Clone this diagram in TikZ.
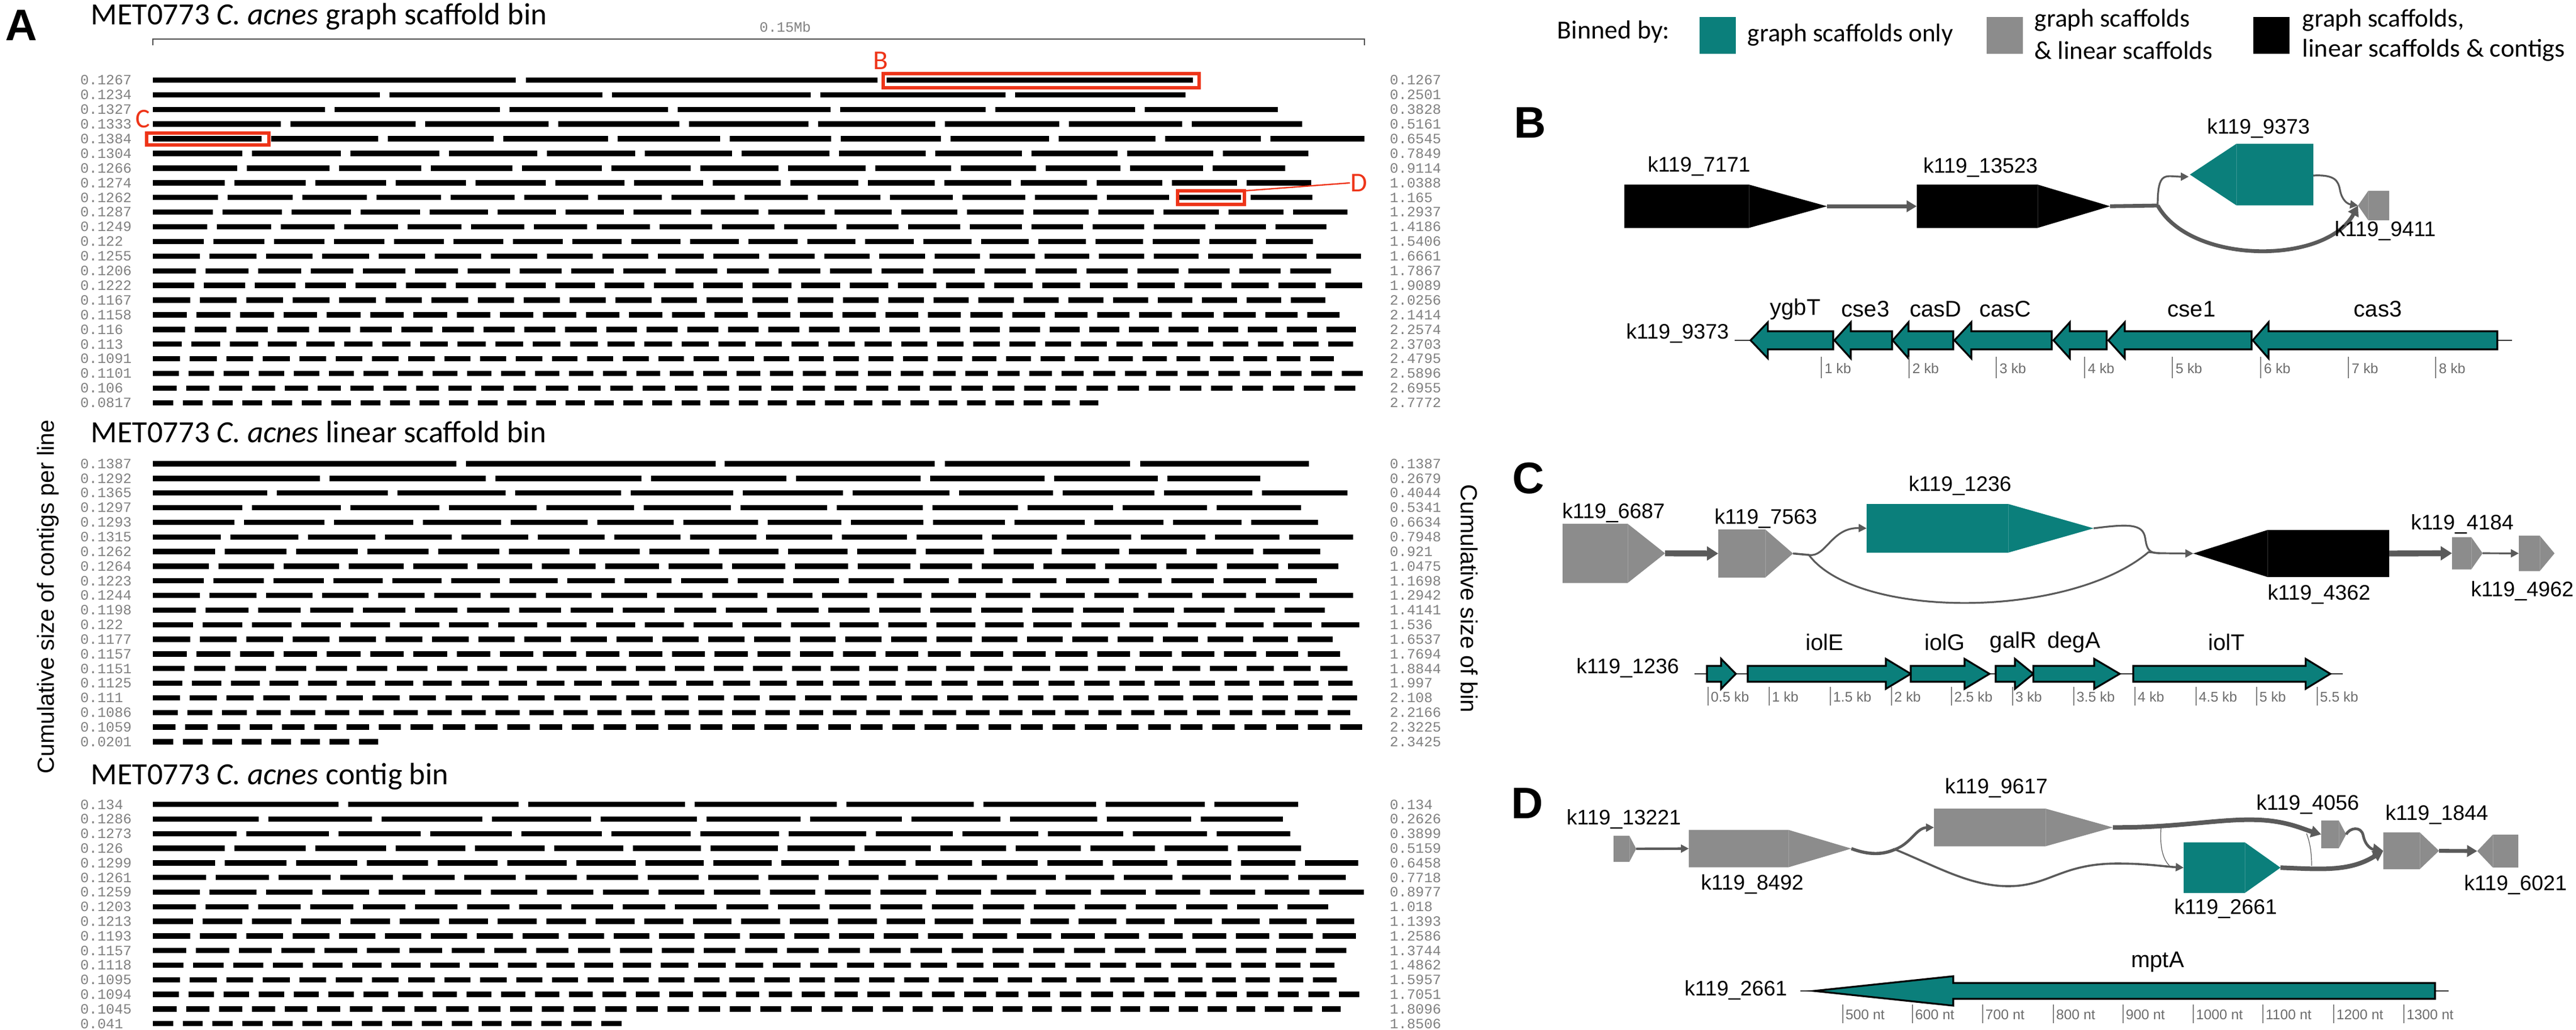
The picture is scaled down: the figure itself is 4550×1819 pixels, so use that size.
\documentclass[tikz,border=0pt]{standalone}
\usepackage{fontspec}
\setmainfont{Carlito}
\newfontfamily\tagfont{Liberation Sans}
\newfontfamily\rowfont{Liberation Mono}
\usetikzlibrary{arrows.meta}
\definecolor{binteal}{HTML}{0B7F7B}
\definecolor{bingray}{HTML}{8C8C8C}
\definecolor{linkgray}{HTML}{5A5A5A}
\definecolor{markred}{HTML}{EE3418}
\tikzset{
  contig/.style={line width=2.35pt,black},
  rowlabel/.style={inner sep=0pt,text=gray,font=\rowfont\fontsize{6.3}{7}\selectfont},
  bintitle/.style={inner sep=0pt,anchor=base west,font=\fontsize{13.6}{16}\selectfont},
  axistitle/.style={inner sep=0pt,font=\tagfont\fontsize{10.3}{12}\selectfont},
  panelmark/.style={inner sep=0pt,font=\tagfont\bfseries\fontsize{19.5}{22}\selectfont},
  redbox/.style={draw=markred,line width=1.45pt},
  redmark/.style={inner sep=0pt,text=markred,font=\fontsize{12}{14}\selectfont},
  legendbox/.style={inner sep=0pt,minimum width=16pt,minimum height=16.25pt},
  legendtext/.style={inner sep=0pt,anchor=west,font=\fontsize{11.3}{13}\selectfont},
  tagname/.style={inner sep=0pt,font=\tagfont\fontsize{9.3}{11}\selectfont},
  genename/.style={inner sep=0pt,font=\tagfont\fontsize{10}{12}\selectfont},
  gene/.style={fill=binteal,draw=black,line width=.8pt,line join=miter},
  backbone/.style={draw=black!80,line width=.6pt},
  scalemark/.style={draw=gray,line width=.3pt},
  scaletext/.style={inner sep=0pt,anchor=west,text=gray!85!black,font=\tagfont\fontsize{6.2}{7}\selectfont},
  thinlink/.style={draw=linkgray,line width=.8pt,-{Triangle[length=3.5pt,width=3.5pt]}},
  midlink/.style={draw=linkgray,line width=1.7pt,-{Triangle[length=4.5pt,width=5pt]}},
  fatlink/.style={draw=linkgray,line width=2.6pt,-{Triangle[length=5pt,width=6pt]}},
}
% one row of panel A, the segments shrink evenly from first to last
\newcommand{\contigrow}[7]{%
  \node[rowlabel,anchor=west] (#1l) at (141,#2) {#6};
  \node[rowlabel,anchor=west] (#1r) at (2454,#2) {#7};
  \ifnum#3>0
    \pgfmathsetmacro{\lastlen}{2*(#5-270-(#3-1)*17)/#3-#4}
    \pgfmathsetmacro{\lendrop}{(#4-\lastlen)/(#3-1)}
    \pgfmathtruncatemacro{\lastseg}{#3-1}
    \foreach \segi in {0,...,\lastseg}{
      \pgfmathsetmacro{\segstart}{270+\segi*(17+#4)-\lendrop*\segi*(\segi-1)/2}
      \pgfmathsetmacro{\segstop}{\segstart+#4-\segi*\lendrop}
      \draw[contig] (\segstart,#2) -- (\segstop,#2);
    }
  \fi}
\newcommand{\binrows}[4]{%
  \foreach \segn/\segfirst/\segend/\lefttxt/\righttxt [count=\rowno from 0] in {#4}{
    \pgfmathsetmacro{\rowy}{#2+\rowno*#3}
    \contigrow{#1\rowno}{\rowy}{\segn}{\segfirst}{\segend}{\lefttxt}{\righttxt}
  }}
% name, colour, tail x, shoulder x, tip x, top y, bottom y
\newcommand{\contigshape}[7]{%
  \coordinate (#1-tail) at (#3,{(#6+#7)/2});
  \coordinate (#1-tip) at (#5,{(#6+#7)/2});
  \fill[#2] (#3,#6) -- (#4,#6) -- (#1-tip) -- (#4,#7) -- (#3,#7) -- cycle;
  \draw[white,opacity=.2,line width=.25pt] (#4,#6) -- (#4,#7);}
% tail x, shoulder x, tip x, middle y, half body, half head
\newcommand{\genearrow}[6]{%
  \draw[gene] (#1,#4-#5) -- (#2,#4-#5) -- (#2,#4-#6) -- (#3,#4) -- (#2,#4+#6) -- (#2,#4+#5) -- (#1,#4+#5) -- cycle;}
\begin{document}
\begin{tikzpicture}[x=.25pt,y=-.25pt]
\useasboundingbox (0,0) rectangle (4550,1819);

% panel A
\node[panelmark] (markA) at (38,45) {A};
\node[bintitle] (titleG) at (160,44) {MET0773 \textit{C. acnes} graph scaffold bin};
\node[bintitle] (titleL) at (160,781) {MET0773 \textit{C. acnes} linear scaffold bin};
\node[bintitle] (titleC) at (160,1385) {MET0773 \textit{C. acnes} contig bin};
\node[rowlabel] (scaletxt) at (1387,47) {0.15Mb};
\draw[draw=black!70,line width=.6pt] (270,80) -- (270,69) -- (2410,69) -- (2410,80);
\node[axistitle,rotate=90] (axisL) at (85,1054) {Cumulative size of contigs per line};
\node[axistitle,rotate=-90] (axisR) at (2595,1057) {Cumulative size of bin};

\binrows{g}{141.5}{25.9}{
0/0/0/0.1267/0.1267,5/401/2094/0.1234/0.2501,7/303.5/2257/0.1327/0.3828,9/225.5/2300/0.1333/0.5161,
11/192/2410/0.1384/0.6545,12/158/2311/0.1304/0.7849,13/148.5/2270/0.1266/0.9114,15/127/2316/0.1274/1.0388,
16/115/2318/0.1262/1.165,18/106/2380/0.1287/1.2937,19/96/2343/0.1249/1.4186,20/90/2319/0.122/1.5406,
22/83/2404/0.1255/1.6661,23/76/2351/0.1206/1.7867,25/73/2406/0.1222/1.9089,26/65.5/2341/0.1167/2.0256,
28/60/2366/0.1158/2.1414,30/56.5/2395/0.116/2.2574,33/51/2390/0.113/2.3703,34/48/2356/0.1091/2.4795,
37/45.6/2407/0.1101/2.5896,38/41.5/2394/0.106/2.6955,33/35.7/1940/0.0817/2.7772}
\draw[contig] (270,141.5) -- (911,141.5);
\draw[contig] (929,141.5) -- (1550,141.5);
\draw[contig] (1566,141.5) -- (2107,141.5);

\binrows{l}{819}{25.84}{
0/0/0/0.1387/0.1387,8/295/2226/0.1292/0.2679,11/201.5/2380/0.1365/0.4044,12/158/2298/0.1297/0.5341,
14/144/2328/0.1293/0.6634,16/120/2390/0.1315/0.7948,17/110/2332/0.1262/0.921,19/98.7/2364/0.1264/1.0475,
21/90/2326/0.1223/1.1698,22/83/2390/0.1244/1.2942,23/76/2340/0.1198/1.4141,25/70.5/2401/0.122/1.536,
26/65.5/2354/0.1177/1.6537,28/60/2367/0.1157/1.7694,31/55.5/2380/0.1151/1.8844,33/52/2389/0.1125/1.997,
34/48/2397/0.111/2.108,36/44/2385/0.1086/2.2166,38/40/2406/0.1059/2.3225,8/35.7/667.5/0.0201/2.3425}
\draw[contig] (270,819) -- (806,819);
\draw[contig] (823,819) -- (1264,819);
\draw[contig] (1280,819) -- (1651,819);
\draw[contig] (1669,819) -- (1996,819);
\draw[contig] (2014,819) -- (2312,819);

\binrows{c}{1420.7}{25.8}{
8/327.5/2293/0.134/0.134,11/187/2266/0.1286/0.2626,13/148/2279/0.1273/0.3899,15/127/2298/0.126/0.5159,
18/110/2399/0.1299/0.6458,20/94/2377/0.1261/0.7718,22/83/2409/0.1259/0.8977,23/76/2346/0.1203/1.018,
25/70.5/2392/0.1213/1.1393,27/65.5/2395/0.1193/1.2586,29/59/2378/0.1157/1.3744,32/54/2357/0.1118/1.4862,
34/48/2361/0.1095/1.5957,37/45.6/2401/0.1094/1.7051,39/41.5/2368/0.1045/1.8096,16/35.7/1098/0.041/1.8506}

% red marks
\draw[redbox] (1560,130) rectangle (2118,155);
\draw[redbox] (259,235) rectangle (475,256);
\draw[redbox] (2080,337) rectangle (2198,361);
\node[redmark] (markredB) at (1556,107) {B};
\node[redmark] (markredC) at (252,210) {C};
\node[redmark] (markredD) at (2400,323) {D};
\draw[draw=markred,line width=.6pt] (2198,337) -- (markredD.west);

% legend
\node[inner sep=0pt,font=\fontsize{11.5}{13}\selectfont] (binned) at (2850,56) {Binned by:};
\node[legendbox,fill=binteal] (keyteal) at (3033.5,62.5) {};
\node[legendbox,fill=bingray] (keygray) at (3540.5,62.5) {};
\node[legendbox,fill=black] (keyblack) at (4012,62.5) {};
\node[legendtext] (keytealtxt) at (3086,62) {graph scaffolds only};
\node[legendtext] (keygraytxtA) at (3593,36) {graph scaffolds};
\node[legendtext] (keygraytxtB) at (3593,89) {\& linear scaffolds};
\node[legendtext] (keyblacktxtA) at (4066,36) {graph scaffolds,};
\node[legendtext,xscale=1.02] (keyblacktxtB) at (4066,89) {linear scaffolds \& contigs};

% panel B
\node[panelmark] (markB) at (2703,217) {B};
\contigshape{b7171}{black}{2869}{3089}{3227}{326}{402.5}
\contigshape{b13523}{black}{3385.5}{3599}{3727}{326}{402.5}
\contigshape{b9373}{binteal}{4086}{3950}{3868}{254}{362.6}
\contigshape{b9411}{bingray}{4220}{4183}{4165}{337}{389}
\coordinate (bsplit) at (3811,363);
\draw[midlink] (b7171-tip) -- (b13523-tail);
\draw[draw=linkgray,line width=1.7pt] (b13523-tip) -- (bsplit);
\draw[thinlink] (bsplit) .. controls (3811,300) and (3825,312) .. (3866,312);
\draw[midlink] (bsplit) .. controls (3870,468) and (4109,468) .. (b9411-tip);
\draw[thinlink] (4086,310) .. controls (4125,308) and (4130,320) .. (4133,335) .. controls (4136,352) and (4145,360) .. (b9411-tip);
\node[tagname] (nb7171) at (3001,294) {k119\_7171};
\node[tagname] (nb13523) at (3498,296) {k119\_13523};
\node[tagname] (nb9373) at (3989,227) {k119\_9373};
\node[tagname] (nb9411) at (4213,408) {k119\_9411};

\node[tagname] (mapB) at (2963,589) {k119\_9373};
\draw[backbone] (3064,601) -- (4437,601);
\genearrow{3238}{3122.6}{3092}{601}{16}{32}
\genearrow{3342}{3269}{3240}{601}{16}{32}
\genearrow{3450}{3371}{3343}{601}{16}{32}
\genearrow{3624}{3482}{3452}{601}{16}{32}
\genearrow{3721}{3656}{3627}{601}{16}{32}
\genearrow{3977}{3753}{3724}{601}{16}{32}
\genearrow{4411}{4007}{3979}{601}{16}{32}
\foreach \genex/\genetxt [count=\genei] in {3171/ygbT,3295/cse3,3419/casD,3542/casC,3871/cse1,4200/cas3}
  \node[genename] (gb\genei) at (\genex,546) {\genetxt};
\foreach \tickx/\ticktxt [count=\ticki] in {3217/1 kb,3372/2 kb,3526/3 kb,3682/4 kb,3837/5 kb,3993/6 kb,4148/7 kb,4302/8 kb}{
  \draw[scalemark] (\tickx,630) -- (\tickx,668);
  \node[scaletext] (tb\ticki) at (\tickx+5,651) {\ticktxt};
}

% panel C
\node[panelmark] (markC) at (2700,845) {C};
\contigshape{c6687}{bingray}{2760}{2875}{2941}{925}{1029.5}
\contigshape{c7563}{bingray}{3035}{3118}{3167}{935}{1020}
\contigshape{c1236}{binteal}{3297}{3547}{3698}{890}{976}
\contigshape{c4362}{black}{4220}{4005}{3874}{936}{1019}
\contigshape{c4184}{bingray}{4331}{4365}{4385}{948.5}{1005.6}
\contigshape{c4962}{bingray}{4449}{4486}{4512}{946}{1008.5}
\coordinate (csplit) at (3195,980);
\coordinate (cjoin) at (3815,977);
\draw[fatlink] (c6687-tip) -- (c7563-tail);
\draw[draw=linkgray,line width=.9pt] (c7563-tip) -- (csplit);
\draw[thinlink] (csplit) .. controls (3225,985) and (3235,931) .. (c1236-tail);
\draw[draw=linkgray,line width=.8pt] (csplit) .. controls (3280,1094) and (3654,1094) .. (3795,975) -- (cjoin);
\draw[draw=linkgray,line width=.8pt] (c1236-tip) .. controls (3760,925) and (3785,925) .. (3789,950) .. controls (3792,970) and (3795,977) .. (cjoin);
\draw[thinlink] (cjoin) -- (c4362-tip);
\draw[fatlink] (c4362-tail) -- (c4184-tail);
\draw[thinlink] (c4184-tip) -- (c4962-tail);
\node[tagname] (nc6687) at (2850,906) {k119\_6687};
\node[tagname] (nc7563) at (3119,916) {k119\_7563};
\node[tagname] (nc1236) at (3462,858) {k119\_1236};
\node[tagname] (nc4362) at (4096,1050) {k119\_4362};
\node[tagname] (nc4184) at (4349,926) {k119\_4184};
\node[tagname] (nc4962) at (4455,1044) {k119\_4962};

\node[tagname] (mapC) at (2875,1180) {k119\_1236};
\draw[backbone] (2993,1190) -- (4138,1190);
\genearrow{3015}{3040}{3066}{1190}{14}{26.5}
\genearrow{3087}{3331}{3375}{1190}{14}{26.5}
\genearrow{3375}{3470}{3514}{1190}{14}{26.5}
\genearrow{3525}{3559}{3591.5}{1190}{14}{26.5}
\genearrow{3591.5}{3699}{3744}{1190}{14}{26.5}
\genearrow{3768}{4072.5}{4116}{1190}{14}{26.5}
\foreach \genex/\genetxt [count=\genei] in {3223/iolE,3435/iolG,3556/galR,3663/degA,3933/iolT}
  \node[genename] (gc\genei) at (\genex,1134) {\genetxt};
\foreach \tickx/\ticktxt [count=\ticki] in {3017/0.5 kb,3125/1 kb,3233/1.5 kb,3341/2 kb,3447/2.5 kb,3555/3 kb,3663/3.5 kb,3771/4 kb,3879/4.5 kb,3986/5 kb,4093/5.5 kb}{
  \draw[scalemark] (\tickx,1213) -- (\tickx,1246);
  \node[scaletext] (tc\ticki) at (\tickx+4,1231) {\ticktxt};
}

% panel D
\node[panelmark] (markD) at (2698,1419) {D};
\contigshape{d13221}{bingray}{2850}{2878}{2890}{1476}{1522}
\contigshape{d8492}{bingray}{2983}{3159}{3270}{1465.6}{1531.6}
\contigshape{d9617}{bingray}{3416}{3613}{3732}{1428}{1494.5}
\contigshape{d2661}{binteal}{3857}{3965}{4028}{1487.6}{1577}
\contigshape{d4056}{bingray}{4100}{4131}{4144}{1449}{1498}
\contigshape{d1844}{bingray}{4209.5}{4274}{4308}{1470}{1535}
\contigshape{d6021}{bingray}{4448}{4403}{4375.5}{1474}{1532}
\coordinate (dsplit) at (3347,1500);
\draw[thinlink,line width=1.1pt] (d13221-tip) -- (d8492-tail);
\draw[draw=linkgray,line width=1.4pt] (d8492-tip) .. controls (3300,1510) and (3325,1510) .. (dsplit);
\draw[thinlink,line width=1.2pt] (dsplit) .. controls (3375,1490) and (3385,1462) .. (d9617-tail);
\draw[thinlink,line width=.9pt] (dsplit) .. controls (3420,1530) and (3480,1565) .. (3547,1565) .. controls (3620,1565) and (3640,1525) .. (3740,1525) .. controls (3790,1525) and (3820,1530) .. (d2661-tail);
\draw[draw=linkgray,line width=.3pt] (3817,1462) .. controls (3815,1490) and (3818,1515) .. (3832,1529);
\draw[draw=linkgray,line width=.3pt] (4074,1472) .. controls (4081,1490) and (4083,1510) .. (4083,1529);
\draw[midlink,line width=2pt] (d9617-tip) .. controls (3850,1462) and (3920,1445) .. (3990,1448) .. controls (4040,1450) and (4070,1465) .. (d4056-tail);
\draw[midlink,line width=2pt] (d2661-tip) .. controls (4100,1535) and (4150,1540) .. (d1844-tail);
\draw[midlink,line width=1.2pt] (d4056-tip) .. controls (4150,1462) and (4170,1458) .. (4174,1475) .. controls (4178,1495) and (4190,1500) .. (d1844-tail);
\draw[midlink] (d1844-tip) -- (d6021-tip);
\node[tagname] (nd9617) at (3526,1392) {k119\_9617};
\node[tagname] (nd13221) at (2868,1447) {k119\_13221};
\node[tagname] (nd4056) at (4076,1421) {k119\_4056};
\node[tagname] (nd1844) at (4304,1439) {k119\_1844};
\node[tagname] (nd8492) at (3095,1562) {k119\_8492};
\node[tagname] (nd2661) at (3931,1605) {k119\_2661};
\node[tagname] (nd6021) at (4443,1563) {k119\_6021};

\node[tagname] (mapD) at (3066,1749) {k119\_2661};
\draw[backbone] (3180,1750) -- (4325,1750);
\genearrow{4301}{3450}{3204}{1750}{14}{26}
\node[genename] (gd) at (3811,1699) {mptA};
\foreach \tickx/\ticktxt [count=\ticki] in {3255/500 nt,3378/600 nt,3502/700 nt,3627/800 nt,3750/900 nt,3874/1000 nt,3997/1100 nt,4122/1200 nt,4246/1300 nt}{
  \draw[scalemark] (\tickx,1774) -- (\tickx,1807);
  \node[scaletext] (td\ticki) at (\tickx+4,1792) {\ticktxt};
}
\end{tikzpicture}
\end{document}
